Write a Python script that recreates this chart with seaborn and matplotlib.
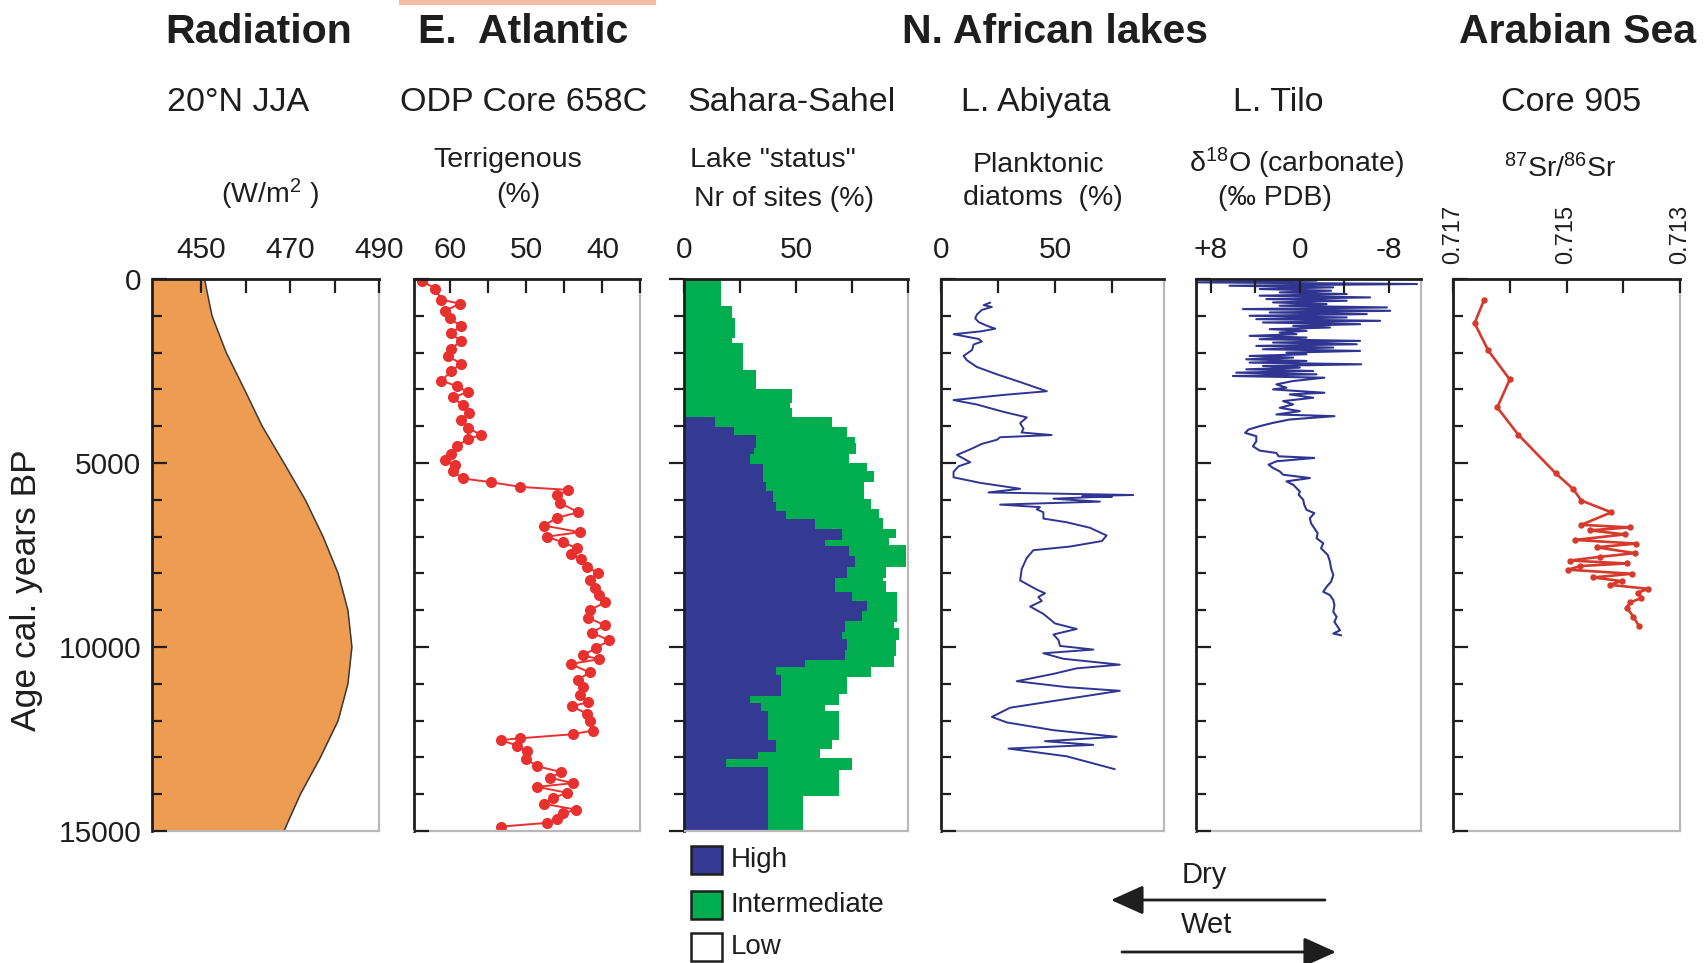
import numpy as np
import matplotlib
matplotlib.use("Agg")
import matplotlib.pyplot as plt
import seaborn as sns
from matplotlib.patches import Rectangle, FancyArrowPatch
from matplotlib.ticker import MultipleLocator, FixedLocator

# ---------------- data ----------------
# Summer (JJA) insolation at 20N, W/m2
rad_age = [0, 1000, 2000, 3000, 4000, 5000, 6000, 7000, 8000, 9000,
           10000, 11000, 12000, 13000, 14000, 15000]
rad_val = [450.7, 452.4, 455.6, 459.7, 463.7, 468.6, 473.4, 477.4, 480.8, 483.0,
           483.9, 483.0, 480.8, 476.8, 472.3, 468.6]

# ODP 658C terrigenous percentage
terr_age = [50, 260, 560, 670, 870, 1070, 1280, 1480, 1690, 1890,
            2100, 2300, 2510, 2760, 2910, 3070, 3220, 3430, 3630, 3830,
            4040, 4240, 4350, 4550, 4760, 4910, 5060, 5220, 5420, 5520,
            5650, 5730, 5880, 6080, 6340, 6490, 6700, 6880, 7000, 7160,
            7310, 7460, 7620, 7820, 7980, 8180, 8390, 8590, 8790, 9000,
            9200, 9410, 9610, 9820, 10020, 10230, 10330, 10460, 10690, 10890,
            11090, 11300, 11500, 11610, 11810, 12010, 12270, 12370, 12480, 12530,
            12680, 12830, 13040, 13240, 13400, 13550, 13700, 13800, 13960, 14110,
            14260, 14420, 14520, 14670, 14780, 14880]
terr_val = [63.8, 62.0, 61.2, 58.8, 60.7, 60.1, 58.6, 59.9, 58.6, 59.9,
            60.3, 58.6, 59.9, 61.2, 59.2, 57.7, 59.7, 58.4, 57.5, 58.6,
            57.7, 56.0, 57.7, 59.2, 59.9, 60.7, 59.4, 59.7, 58.4, 54.7,
            50.8, 44.5, 46.0, 45.6, 43.2, 46.0, 47.7, 43.0, 47.3, 45.2,
            43.4, 44.2, 42.8, 42.1, 40.6, 41.7, 41.0, 40.4, 39.7, 41.7,
            41.9, 39.7, 41.4, 39.1, 40.8, 42.6, 40.4, 44.2, 41.7, 43.2,
            42.6, 43.0, 41.9, 44.0, 42.1, 41.7, 41.3, 43.9, 50.8, 53.4,
            51.2, 49.9, 50.1, 48.6, 45.4, 46.9, 43.9, 48.6, 44.7, 46.5,
            47.7, 43.5, 45.2, 46.0, 47.3, 53.4]

# Sahara-Sahel lake status: step edges (years BP) and % of sites
high_int_edges = [0, 740, 1050, 1610, 1750, 2470, 3000, 3360, 3510, 3740,
                  4010, 4280, 4460, 4750, 5000, 5210, 5520, 5980, 6240, 6490,
                  6780, 7030, 7230, 7830, 8120, 8220, 8500, 9320, 9490, 9800,
                  10240, 10550, 10810, 11270, 11580, 11730, 12530, 12780, 13020, 13330,
                  14050, 15000]
high_int_pct = [16.3, 21.6, 22.7, 21.6, 26.1, 31.9, 48.0, 47.3, 48.3, 65.9,
                72.7, 76.0, 76.7, 73.7, 81.3, 84.6, 80.2, 83.5, 87.0, 88.8,
                94.4, 91.5, 98.9, 90.0, 88.5, 90.0, 94.9, 93.4, 95.6, 94.6,
                93.4, 83.5, 72.5, 69.2, 62.8, 69.2, 65.9, 60.6, 74.9, 69.2,
                52.9]
high_edges = [0, 3740, 4010, 4250, 4590, 4750, 5030, 5520, 5770, 6060,
              6310, 6510, 6780, 7090, 7260, 7520, 7830, 8120, 8500, 8750,
              9010, 9300, 9580, 9780, 10090, 10350, 10550, 10760, 11320, 11530,
              11730, 12530, 12860, 13050, 13250, 15000]
high_pct = [0, 14.0, 22.1, 31.9, 31.0, 29.6, 35.2, 36.4, 39.7, 40.9,
            45.3, 58.3, 70.4, 62.8, 73.7, 76.0, 72.5, 67.4, 74.9, 81.3,
            79.3, 71.5, 70.4, 72.7, 71.5, 54.1, 40.9, 43.1, 29.6, 34.1,
            37.5, 40.9, 32.9, 18.6, 37.5]

# Lake Abiyata planktonic diatoms (%)
abiy_age = [640, 710, 760, 840, 970, 1070, 1170, 1270, 1350, 1420,
            1500, 1560, 1630, 1700, 1780, 1930, 2090, 2210, 2390, 2590,
            2800, 3050, 3150, 3290, 3410, 3610, 3760, 3920, 4070, 4170,
            4240, 4300, 4370, 4480, 4630, 4780, 4880, 4980, 5090, 5240,
            5390, 5540, 5700, 5800, 5870, 5900, 5915, 5930, 5970, 6050,
            6130, 6200, 6260, 6340, 6510, 6610, 6760, 6970, 7120, 7270,
            7370, 7580, 7880, 8190, 8440, 8540, 8640, 8750, 8900, 9100,
            9360, 9510, 9660, 9810, 9970, 10070, 10170, 10320, 10480, 10580,
            10730, 10930, 11090, 11190, 11440, 11650, 11900, 12050, 12260, 12440,
            12560, 12660, 12760, 12970, 13320]
abiy_val = [21.6, 18.7, 22.3, 17.9, 15.7, 15.0, 16.5, 20.1, 23.8, 17.9,
            5.5, 10.6, 16.5, 17.9, 14.3, 13.6, 9.9, 11.4, 15.7, 24.5,
            34.7, 46.4, 27.4, 5.5, 15.7, 27.4, 37.6, 34.7, 36.2, 35.3,
            48.5, 25.9, 24.5, 17.9, 12.8, 7.0, 9.9, 12.8, 7.7, 5.5,
            5.5, 17.2, 34.7, 20.8, 84.3, 62.0, 75.0, 65.3, 49.3, 69.7,
            25.9, 43.4, 42.0, 44.9, 44.9, 55.1, 65.3, 72.6, 70.6, 56.6,
            40.5, 37.6, 35.4, 34.7, 42.0, 45.6, 42.7, 44.2, 39.1, 44.9,
            50.0, 59.5, 49.3, 51.5, 52.2, 66.8, 44.9, 53.6, 78.4, 59.5,
            49.3, 33.2, 55.1, 78.4, 52.2, 30.3, 22.3, 28.9, 49.3, 77.0,
            45.6, 66.8, 29.6, 55.1, 76.2]

# Lake Tilo carbonate d18O (permil PDB)
tilo_age = [45, 91, 136, 182, 227, 273, 318, 364, 409, 454,
            500, 545, 591, 636, 682, 727, 773, 818, 864, 909,
            954, 1000, 1045, 1091, 1136, 1182, 1227, 1273, 1318, 1363,
            1409, 1454, 1500, 1545, 1591, 1636, 1682, 1727, 1773, 1818,
            1863, 1909, 1954, 2000, 2045, 2091, 2136, 2182, 2227, 2272,
            2318, 2363, 2409, 2454, 2500, 2545, 2591, 2636, 2682, 2772,
            2863, 2954, 3000, 3091, 3136, 3227, 3318, 3409, 3500, 3591,
            3681, 3727, 3818, 3909, 4000, 4090, 4181, 4272, 4409, 4545,
            4663, 4727, 4818, 4863, 4954, 5045, 5136, 5227, 5318, 5409,
            5499, 5590, 5681, 5772, 5863, 5999, 6136, 6272, 6363, 6499,
            6636, 6772, 6908, 7045, 7181, 7317, 7499, 7681, 7863, 8045,
            8226, 8363, 8499, 8590, 8726, 8863, 9045, 9181, 9317, 9454,
            9545, 9635, 9681]
tilo_val = [-1.5, 9.3, -10.5, 6.3, -3.0, 3.6, -2.8, 1.8, -4.2, 3.6,
            -6.3, 3.0, -4.2, 2.4, -2.4, 1.8, -7.8, 5.1, -8.1, 2.7,
            -6.0, 4.5, -4.2, 3.9, -7.2, 3.3, -5.4, 0.6, -2.7, 2.7,
            -0.6, 1.8, 0.3, 4.5, -0.6, 3.6, -5.4, 2.4, -5.1, 3.9,
            -3.0, 3.3, -5.4, 1.2, -0.6, 4.5, 0.6, 4.8, -0.6, 4.5,
            -5.5, 3.3, 0.0, 4.8, -1.2, 5.7, -1.5, 6.0, -2.2, 0.6,
            2.1, 1.2, 2.4, -2.2, 0.9, -1.2, 1.5, 0.6, 1.8, 0.0,
            2.1, -3.1, 0.9, 2.4, 3.6, 4.6, 4.9, 3.9, 3.9, 4.2,
            3.6, 2.1, 1.9, -1.3, 2.1, 2.8, 2.4, 1.8, 1.5, -0.9,
            1.2, 0.6, 0.3, 0.0, 0.1, -0.3, -0.4, -0.6, -1.3, -0.9,
            -1.0, -1.3, -1.6, -1.5, -2.1, -1.9, -2.5, -2.7, -2.8, -3.0,
            -2.8, -2.4, -2.1, -2.7, -3.0, -3.1, -3.0, -3.3, -3.1, -3.4,
            -3.6, -3.0, -3.7]

# Arabian Sea core 905 87Sr/86Sr
sr_age = [560, 1200, 1940, 2730, 3490, 4230, 5280, 5710, 6020, 6340,
          6680, 6750, 6830, 6940, 7090, 7190, 7290, 7450, 7550, 7650,
          7730, 7800, 7900, 8010, 8110, 8210, 8310, 8420, 8520, 8670,
          8790, 8930, 9180, 9440]
sr_val = [0.71645, 0.71662, 0.71638, 0.71600, 0.71622, 0.71585, 0.71519, 0.71488, 0.71474, 0.71421,
          0.71474, 0.71388, 0.71459, 0.71397, 0.71485, 0.71377, 0.71447, 0.71379, 0.71441, 0.71494,
          0.71394, 0.71476, 0.71497, 0.71385, 0.71453, 0.71403, 0.71424, 0.71356, 0.71374, 0.71368,
          0.71388, 0.71394, 0.71382, 0.71372]

legend_labels = ["High", "Intermediate", "Low"]

# ---------------- style ----------------
ORANGE = "#EE9C52"
RED = "#E8302F"
RED_DARK = "#D63A2C"
NAVY = "#2F3590"
LAKE_BLUE = "#343A93"
LAKE_GREEN = "#00AE4F"
INK = "#1E1E1E"

sns.set_theme(style="white")
plt.rcParams["font.family"] = ["Liberation Sans", "DejaVu Sans"]
plt.rcParams["mathtext.fontset"] = "custom"
plt.rcParams["mathtext.rm"] = "Liberation Sans"
plt.rcParams["mathtext.it"] = "Liberation Sans:italic"
plt.rcParams["mathtext.bf"] = "Liberation Sans:bold"
plt.rcParams["text.color"] = INK
plt.rcParams["xtick.color"] = INK
plt.rcParams["ytick.color"] = INK

W, H = 1708, 963
fig = plt.figure(figsize=(W / 100, H / 100), dpi=100)
fig.patch.set_facecolor("white")

TOP, BOTTOM = 279, 831


def panel(x0, x1):
    return fig.add_axes([x0 / W, 1 - BOTTOM / H, (x1 - x0) / W, (BOTTOM - TOP) / H])


def finish(ax, xlim, major, minor, labels, ydir="in", ylabels=False, xlabelsize=21.5,
           xrot=0):
    ax.set_xlim(*xlim)
    ax.set_ylim(15000, 0)
    ax.set_xlabel("")
    ax.set_ylabel("")
    ax.grid(False)
    ax.set_axisbelow(False)
    ax.xaxis.tick_top()
    ax.xaxis.set_major_locator(FixedLocator(major))
    ax.set_xticklabels(labels, fontsize=xlabelsize, rotation=xrot)
    ax.xaxis.set_minor_locator(FixedLocator(minor))
    ax.yaxis.set_major_locator(MultipleLocator(5000))
    ax.yaxis.set_minor_locator(MultipleLocator(1000))
    ax.tick_params(axis="x", which="both", direction="in", length=10, width=1.6,
                   top=True, bottom=False, labeltop=True, labelbottom=False, pad=11)
    ax.tick_params(axis="y", which="major", direction=ydir, length=11, width=1.6,
                   left=True, right=False, labelleft=ylabels, labelsize=21.5, pad=8)
    ax.tick_params(axis="y", which="minor", direction=ydir, length=7, width=1.6,
                   left=True, right=False)
    for s in ("top", "left"):
        ax.spines[s].set_color(INK)
        ax.spines[s].set_linewidth(2.0)
    for s in ("bottom", "right"):
        ax.spines[s].set_color("#B8B8B8")
        ax.spines[s].set_linewidth(1.6)
    ax.set_facecolor("white")


# 1. Radiation
ax1 = panel(152.5, 379)
ax1.fill_betweenx(rad_age, 439, rad_val, color=ORANGE, lw=0, zorder=1)
sns.lineplot(x=rad_val, y=rad_age, sort=False, estimator=None, color="#3A3A3A",
             lw=1.1, ax=ax1, zorder=2)
finish(ax1, (439, 490), [450, 470, 490], [460, 480], ["450", "470", "490"], ylabels=True)
ax1.set_yticks([0, 5000, 10000, 15000])
ax1.set_yticklabels(["0", "5000", "10000", "15000"], fontsize=21.5)

# 2. ODP 658C terrigenous
ax2 = panel(414, 640.5)
sns.lineplot(x=terr_val, y=terr_age, sort=False, estimator=None, color=RED, lw=1.4,
             marker="o", markersize=8, markeredgewidth=0, ax=ax2)
finish(ax2, (64.8, 35), [60, 50, 40], [55, 45, 35], ["60", "50", "40"])

# 3. Sahara-Sahel lake status
ax3 = panel(684, 908.5)
ax3.fill_betweenx(high_int_edges, 0, np.append(high_int_pct, high_int_pct[-1]),
                  step="post", color=LAKE_GREEN, lw=0)
ax3.fill_betweenx(high_edges, 0, np.append(high_pct, high_pct[-1]),
                  step="post", color=LAKE_BLUE, lw=0)
finish(ax3, (0, 100), [0, 50], [25, 75, 100], ["0", "50"], ydir="out")

# 4. Lake Abiyata diatoms
ax4 = panel(941, 1164.5)
sns.lineplot(x=abiy_val, y=abiy_age, sort=False, estimator=None, color=NAVY, lw=1.4, ax=ax4)
finish(ax4, (0, 98), [0, 50], [25, 75], ["0", "50"])

# 5. Lake Tilo d18O
ax5 = panel(1196, 1421.5)
sns.lineplot(x=tilo_val, y=tilo_age, sort=False, estimator=None, color=NAVY, lw=1.5, ax=ax5)
finish(ax5, (9.3, -10.9), [8, 0, -8], [4, -4], ["+8", "0", "-8"])

# 6. Arabian Sea core 905
ax6 = panel(1453, 1680)
sns.lineplot(x=sr_val, y=sr_age, sort=False, estimator=None, color=RED_DARK, lw=1.9,
             marker="o", markersize=4.6, markeredgewidth=0, ax=ax6)
finish(ax6, (0.717, 0.713), [0.717, 0.715, 0.713], [0.716, 0.714],
       ["0.717", "0.715", "0.713"], xlabelsize=17, xrot=90)


# ---------------- headers ----------------
def ftext(x, y, s, size, weight="normal", ha="center", **kw):
    fig.text(x / W, 1 - y / H, s, fontsize=size, fontweight=weight, ha=ha,
             va="baseline", **kw)


fig.add_artist(Rectangle((399 / W, 1 - 5 / H), 257 / W, 5 / H,
                         transform=fig.transFigure, color="#F5B9A4", lw=0))

for x, s in [(259, "Radiation"), (523, "E.  Atlantic"), (1055, "N. African lakes"),
             (1578, "Arabian Sea")]:
    ftext(x, 43, s, 29.5, weight="bold")

for x, s in [(238, "20°N JJA"), (524, "ODP Core 658C"), (792, "Sahara-Sahel"),
             (1036, "L. Abiyata"), (1278, "L. Tilo"), (1571, "Core 905")]:
    ftext(x, 111, s, 24.5)

ftext(270, 203, r"(W/m$^{2}$ )", 20.5)
ftext(508, 167, "Terrigenous", 20.5)
ftext(518, 202, "(%)", 20.5)
ftext(773, 167, 'Lake "status"', 20.5)
ftext(784, 206, "Nr of sites (%)", 20.5)
ftext(1038, 172, "Planktonic", 20.5)
ftext(1043, 205, "diatoms  (%)", 20.5)
ftext(1297, 172, r"δ$^{18}$O (carbonate)", 20.5)
ftext(1275, 205, "(‰ PDB)", 20.5)
ftext(1560, 177, r"$^{87}$Sr/$^{86}$Sr", 20.5)

# shared age axis title
fig.text(27 / W, 1 - 590 / H, "Age cal. years BP", fontsize=25.5, rotation=90,
         ha="center", va="center")

# ---------------- lake-status key ----------------
key_colors = [LAKE_BLUE, LAKE_GREEN, "white"]
key_y = [846, 891, 933]
for c, y, lab in zip(key_colors, key_y, legend_labels):
    fig.add_artist(Rectangle((691 / W, 1 - (y + 28) / H), 31 / W, 28 / H,
                             transform=fig.transFigure, facecolor=c,
                             edgecolor=INK, lw=1.8))
    fig.text(731 / W, 1 - (y + 14) / H, lab, fontsize=20, ha="left", va="center")

# ---------------- dry / wet arrows ----------------
ftext(1204, 883, "Dry", 21)
ftext(1207, 933, "Wet", 21)
for (xa, xb, y) in [(1325, 1111, 900), (1122, 1336, 952)]:
    fig.add_artist(FancyArrowPatch((xa / W, 1 - y / H), (xb / W, 1 - y / H),
                                   transform=fig.transFigure,
                                   arrowstyle="-|>,head_length=1.0,head_width=0.45",
                                   mutation_scale=20, lw=2, color=INK,
                                   shrinkA=0, shrinkB=0))

fig.savefig("out.png", dpi=100, facecolor="white")
